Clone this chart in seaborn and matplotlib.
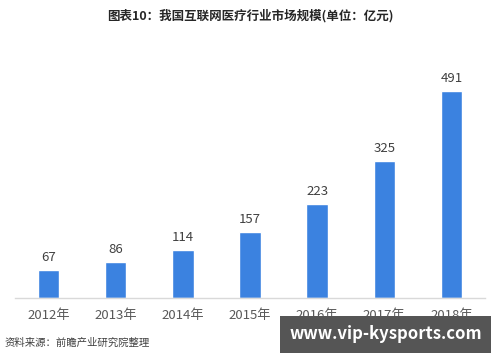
import numpy as np
import pandas as pd
import matplotlib
matplotlib.use("Agg")
import matplotlib.pyplot as plt
import seaborn as sns

years = ["2012年", "2013年", "2014年", "2015年", "2016年", "2017年", "2018年"]
market_size = [67, 86, 114, 157, 223, 325, 491]

title = "图表10：我国互联网医疗行业市场规模(单位：亿元)"
source = "资料来源：前瞻产业研究院整理"

sns.set_style("white")
plt.rcParams['font.family'] = ['Noto Sans CJK SC', 'DejaVu Sans']

df = pd.DataFrame({'Year': years, 'Size': market_size})

fig = plt.figure(figsize=(5, 3.62), dpi=100)
ax = fig.add_axes([0.03, 0.177, 0.94, 0.66])
sns.barplot(x='Year', y='Size', data=df, color='#3b82e0', width=0.32,
            saturation=1, ax=ax)

for i, v in enumerate(market_size):
    ax.text(i, v + 14, str(v), ha='center', va='bottom', fontsize=9.5, color='#404040')

ax.set_ylim(0, 567)
ax.set_xlim(-0.5, 6.5)
ax.set_xlabel('')
ax.set_ylabel('')
ax.set_yticks([])
for s in ['top', 'right', 'left']:
    ax.spines[s].set_visible(False)
ax.spines['bottom'].set_color('#d9d9d9')
ax.spines['bottom'].set_linewidth(1)
ax.tick_params(axis='x', length=0, labelsize=9.5, colors='#595959', pad=8)

fig.text(0.5, 0.955, title, ha='center', va='center', fontsize=9,
         fontweight='bold', color='#262626')
fig.text(0.01, 0.052, source, ha='left', va='center', fontsize=7.5, color='#404040')
fig.text(0.771, 0.076, "www.vip-kysports.com", ha='center', va='center',
         fontsize=12, fontweight='bold', color='white',
         bbox=dict(boxstyle='square,pad=0.55', facecolor='#555555', edgecolor='none'))

fig.savefig("out.png", dpi=100)
